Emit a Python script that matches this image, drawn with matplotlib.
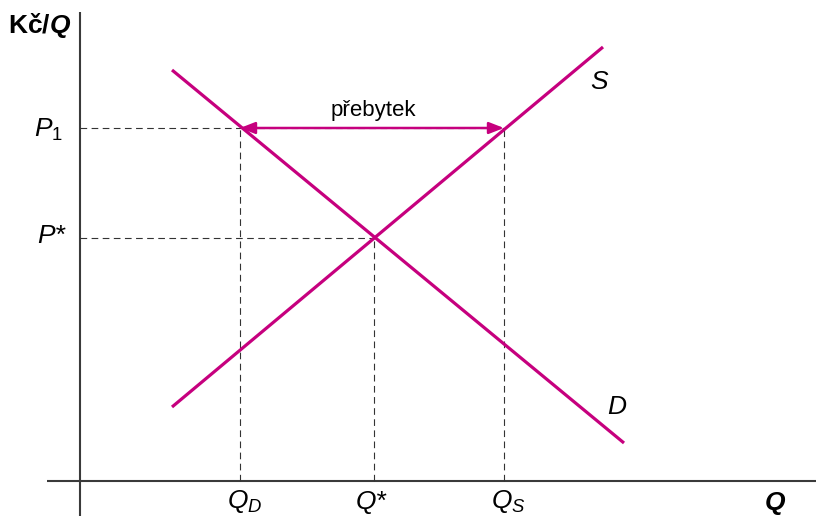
import matplotlib
matplotlib.use("Agg")
import matplotlib.pyplot as plt

plt.rcParams['font.family'] = ['Liberation Sans', 'DejaVu Sans']
plt.rcParams['mathtext.fontset'] = 'custom'
plt.rcParams['mathtext.rm'] = 'Liberation Sans'
plt.rcParams['mathtext.it'] = 'Liberation Sans:italic'
plt.rcParams['mathtext.bf'] = 'Liberation Sans:bold'
plt.rcParams['mathtext.bfit'] = 'Liberation Sans:bold:italic'

# demand / supply curves (quantity, price)
q_demand = [9.2, 54.4]
p_demand = [41.1, 3.8]
q_supply = [9.2, 52.3]
p_supply = [7.4, 43.4]

# equilibrium and price floor
q_star, p_star = 29.4, 24.3
p_1 = 35.3
q_d, q_s = 16.0, 42.4

curve_col = '#C6007E'
axis_col = '#3a3a3a'

fig = plt.figure(figsize=(8.16, 5.16), dpi=100)
ax = fig.add_axes([0, 0, 1, 1])
ax.set_xlim(-8, 73.6)
ax.set_ylim(-3.5, 48.1)
ax.axis('off')

# axes lines
ax.plot([0, 0], [-3.5, 46.9], color=axis_col, lw=1.5, solid_capstyle='butt')
ax.plot([-3.3, 73.6], [0, 0], color=axis_col, lw=1.5, solid_capstyle='butt')

# dashed guides
dash = dict(color='#333333', lw=0.8, dashes=(6, 4))
ax.plot([0, q_s], [p_1, p_1], **dash)
ax.plot([0, q_star], [p_star, p_star], **dash)
ax.plot([q_d, q_d], [0, p_1], **dash)
ax.plot([q_s, q_s], [0, p_1], **dash)
ax.plot([q_star, q_star], [0, p_star], **dash)

# curves
ax.plot(q_demand, p_demand, color=curve_col, lw=2.3, solid_capstyle='butt')
ax.plot(q_supply, p_supply, color=curve_col, lw=2.3, solid_capstyle='butt')

# surplus arrow
ax.annotate('', xy=(q_s, p_1), xytext=(q_d, p_1),
            arrowprops=dict(arrowstyle='<|-|>,head_length=0.9,head_width=0.35',
                            color=curve_col, lw=1.8, shrinkA=0, shrinkB=0))
ax.text((q_d + q_s) / 2 + 0.1, 36.5, 'přebytek', fontsize=16, ha='center', va='baseline')

# labels
fs = 19
ax.text(-7.2, 45.6, r'$\mathbf{Kč/}\mathbfit{Q}$', fontsize=fs, ha='left', va='center')
ax.text(-1.7, p_1 - 0.9, r'$P_{\mathrm{1}}$', fontsize=fs, ha='right', va='baseline')
ax.text(-1.5, p_star - 0.5, 'P*', fontsize=fs, style='italic', ha='right', va='baseline')
ax.text(q_d + 0.5, -2.7, r'$Q_D$', fontsize=fs, ha='center', va='baseline')
ax.text(q_star - 0.3, -2.8, 'Q*', fontsize=fs, style='italic', ha='center', va='baseline')
ax.text(q_s + 0.4, -2.7, r'$Q_S$', fontsize=fs, ha='center', va='baseline')
ax.text(69.5, -2.9, 'Q', fontsize=fs, style='italic', weight='bold', ha='center', va='baseline')
ax.text(51.9, 39.9, 'S', fontsize=fs, style='italic', ha='center', va='center')
ax.text(53.7, 7.4, 'D', fontsize=fs, style='italic', ha='center', va='center')

fig.savefig('out.png', dpi=100)
